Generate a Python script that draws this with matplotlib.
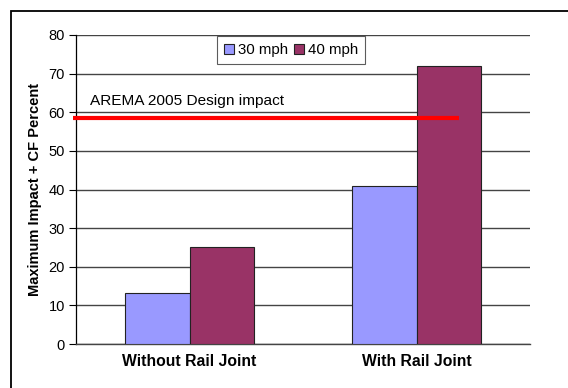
import matplotlib
matplotlib.use("Agg")
import matplotlib.pyplot as plt
import numpy as np
from matplotlib import patches
from matplotlib.lines import Line2D

plt.rcParams['font.family'] = ['Liberation Sans', 'DejaVu Sans']

# 数据
categories = ["Without Rail Joint", "With Rail Joint"]
speed_30 = [13.3, 41.0]
speed_40 = [25.0, 72.1]
series_names = ["30 mph", "40 mph"]
design_impact = 58.6
design_label = "AREMA 2005 Design impact"

COLOR_30 = "#9999FF"
COLOR_40 = "#993366"

W, H = 568, 388
fig = plt.figure(figsize=(W / 100, H / 100), dpi=100)
ax = fig.add_axes([76 / W, 1 - 344 / H, (530 - 76) / W, (344 - 35) / H])

x = np.arange(len(categories))
bar_w = 0.284
ax.bar(x - bar_w / 2, speed_30, bar_w, color=COLOR_30, edgecolor="#222222", linewidth=0.8, zorder=3)
ax.bar(x + bar_w / 2, speed_40, bar_w, color=COLOR_40, edgecolor="#222222", linewidth=0.8, zorder=3)

# 坐标轴
ax.set_xlim(-0.5, 1.5)
ax.set_ylim(0, 80)
ax.set_yticks(np.arange(0, 81, 10))
ax.set_xticks(x)
ax.set_xticklabels(categories, fontsize=11.3, fontweight="bold")
ax.tick_params(axis="x", length=0, pad=7)
ax.tick_params(axis="y", length=5, width=0.8, labelsize=10.5, pad=3)
ax.yaxis.grid(True, color="#444444", linewidth=1.0, zorder=0)
ax.set_axisbelow(True)
for side in ["top", "right"]:
    ax.spines[side].set_visible(False)
ax.spines["left"].set_linewidth(0.9)
ax.spines["bottom"].set_linewidth(1.0)
ax.spines["bottom"].set_color("#444444")
ax.set_ylabel("Maximum Impact + CF Percent", fontsize=10.5, fontweight="bold", labelpad=5)

# 设计冲击线
ax.plot([-0.515, 1.187], [design_impact, design_impact], color="red", linewidth=3,
        solid_capstyle="butt", clip_on=False, zorder=4)
ax.text(-0.44, 61.9, design_label, fontsize=11.1, va="baseline", ha="left")

# 图例
handles = [Line2D([], [], marker="s", linestyle="none", markersize=7.5,
                  markerfacecolor=c, markeredgecolor="#222222", markeredgewidth=0.8)
           for c in (COLOR_30, COLOR_40)]
leg = fig.legend(handles, series_names, loc="upper left",
                 bbox_to_anchor=(217 / W, 1 - 36 / H), ncol=2, fontsize=10.8,
                 frameon=True, fancybox=False, handlelength=0.7, handletextpad=0.25,
                 columnspacing=0.35, borderpad=0.45, borderaxespad=0)
leg.get_frame().set_edgecolor("#333333")
leg.get_frame().set_linewidth(0.8)

# 外框
frame = patches.Rectangle((11 / W, -0.1), 1.2, 1 - 11 / H + 0.1, transform=fig.transFigure,
                          fill=False, edgecolor="black", linewidth=1.3)
fig.add_artist(frame)

fig.savefig("out.png", dpi=100)
